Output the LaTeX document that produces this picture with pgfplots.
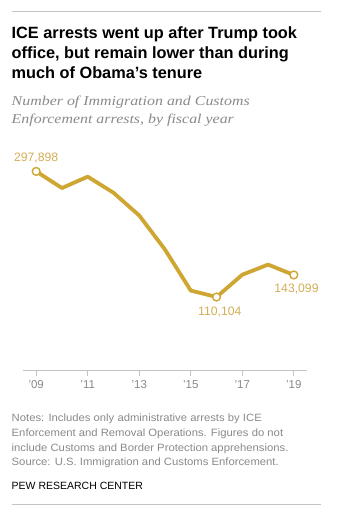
\documentclass[border=0pt]{standalone}
\usepackage{pgfplots}
\pgfplotsset{compat=1.18}
\usepackage{fontspec}
\setmainfont{Liberation Sans}
\newfontfamily\subfont[FakeStretch=1.18]{Liberation Serif}
\newfontfamily\notefont[FakeStretch=1.065]{Liberation Sans}
\definecolor{gold}{HTML}{CEA631}
\definecolor{goldlab}{HTML}{D4AE55}
\definecolor{notegray}{HTML}{8A8A8A}
\definecolor{rulegray}{HTML}{C4C4C4}
\begin{document}
\begin{tikzpicture}[x=1pt,y=1pt]
\useasboundingbox (0,0) rectangle (352,-524);
\fill[white] (0,0) rectangle (352,-524);
\draw[rulegray,line width=0.8pt] (12,-11) -- (321,-11);
\draw[rulegray,line width=0.8pt] (12,-504.3) -- (321,-504.3);
% title
\node[anchor=base west,inner sep=0pt,font=\fontsize{16.3}{20}\selectfont\bfseries] at (11.5,-39) {ICE arrests went up after Trump took};
\node[anchor=base west,inner sep=0pt,font=\fontsize{16.3}{20}\selectfont\bfseries] at (11.5,-59) {office, but remain lower than during};
\node[anchor=base west,inner sep=0pt,font=\fontsize{16.3}{20}\selectfont\bfseries] at (11.5,-79) {much of Obama’s tenure};
% subtitle
\node[anchor=base west,inner sep=0pt,text=notegray,font=\subfont\itshape\fontsize{13.5}{17}\selectfont] at (11.5,-106) {Number of Immigration and Customs};
\node[anchor=base west,inner sep=0pt,text=notegray,font=\subfont\itshape\fontsize{13.5}{17}\selectfont] at (11.5,-123.3) {Enforcement arrests, by fiscal year};
% axis
\begin{axis}[
  at={(23.3pt,-370.7pt)}, anchor=south west,
  scale only axis, width=283.4pt, height=214.1pt,
  xmin=2008.5, xmax=2019.5, ymin=0, ymax=320000,
  axis x line*=bottom, axis y line=none,
  x axis line style={-,draw=rulegray,line width=0.9pt},
  xtick={2009,2011,2013,2015,2017,2019},
  xticklabels={’09,’11,’13,’15,’17,’19},
  tick align=outside, major tick length=5pt,
  xtick style={draw=rulegray,line width=0.8pt},
  xticklabel style={text=notegray,font=\fontsize{11.5}{13}\selectfont,yshift=-1pt},
  clip=false,
]
\addplot[gold,line width=3.8pt,line join=round,mark=none] coordinates {
(2009,297898) (2010,273000) (2011,290000) (2012,266000) (2013,232000) (2014,181000)
(2015,119800) (2016,110104) (2017,143470) (2018,158581) (2019,143099)};
\addplot[only marks,mark=*,mark size=3.9pt,mark options={fill=white,draw=gold,line width=1.4pt}] coordinates {
(2009,297898) (2016,110104) (2019,143099)};
\end{axis}
% data labels
\node[anchor=base,inner sep=0pt,text=goldlab,font=\fontsize{12.2}{14}\selectfont] at (36.2,-161) {297,898};
\node[anchor=base,inner sep=0pt,text=goldlab,font=\fontsize{12.2}{14}\selectfont] at (219.8,-315.7) {110,104};
\node[anchor=base,inner sep=0pt,text=goldlab,font=\fontsize{12.2}{14}\selectfont] at (296.5,-292.3) {143,099};
% notes
\node[anchor=base west,inner sep=0pt,text=notegray,font=\notefont\fontsize{10.6}{14}\selectfont] at (11.5,-421) {Notes: Includes only administrative arrests by ICE};
\node[anchor=base west,inner sep=0pt,text=notegray,font=\notefont\fontsize{10.6}{14}\selectfont] at (11.5,-436) {Enforcement and Removal Operations. Figures do not};
\node[anchor=base west,inner sep=0pt,text=notegray,font=\notefont\fontsize{10.6}{14}\selectfont] at (11.5,-451) {include Customs and Border Protection apprehensions.};
\node[anchor=base west,inner sep=0pt,text=notegray,font=\notefont\fontsize{10.6}{14}\selectfont] at (11.5,-465.7) {Source: U.S. Immigration and Customs Enforcement.};
\node[anchor=base west,inner sep=0pt,font=\fontsize{10.5}{14}\selectfont] at (11.5,-489.3) {PEW RESEARCH CENTER};
\end{tikzpicture}
\end{document}
